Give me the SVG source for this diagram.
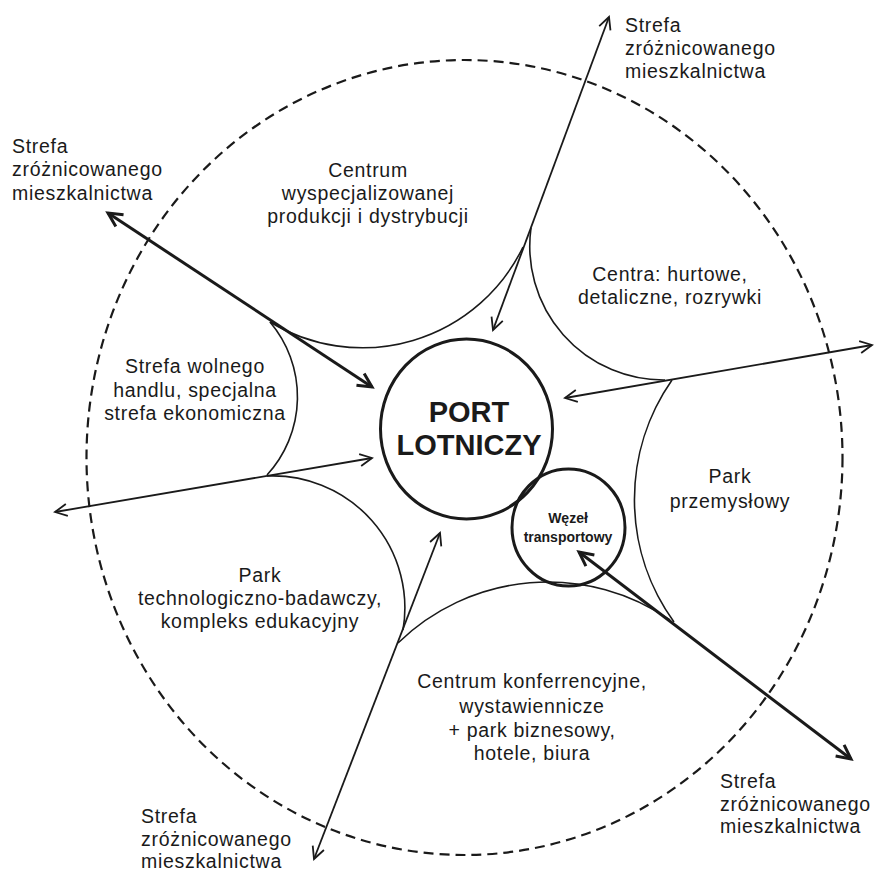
<svg xmlns="http://www.w3.org/2000/svg" width="874" height="871" viewBox="0 0 874 871">
<style>
.zone{fill:none;stroke:#1a1a1a;stroke-width:1.6}
.hub{fill:none;stroke:#1a1a1a;stroke-width:3}
.bound{fill:none;stroke:#1a1a1a;stroke-width:2.2;stroke-dasharray:10 6}
.thin{fill:none;stroke:#1a1a1a;stroke-width:1.8;marker-start:url(#ah);marker-end:url(#ah)}
.thick{fill:none;stroke:#1a1a1a;stroke-width:3;marker-start:url(#ahb);marker-end:url(#ahb)}
text{font-family:"Liberation Sans",Arial,Helvetica,sans-serif;fill:#1a1a1a}
.lbl{font-size:19.5px;letter-spacing:0.7px}
.c{text-anchor:middle}
.big{font-size:29px;font-weight:bold}
.small{font-size:14px;font-weight:bold}
</style>
<defs>
<marker id="ah" markerUnits="userSpaceOnUse" orient="auto-start-reverse" refX="0" refY="0" markerWidth="20" markerHeight="20" overflow="visible">
<path d="M-12,-6 L0,0 L-12,6" fill="none" stroke="#1a1a1a" stroke-width="1.8"/>
</marker>
<marker id="ahb" markerUnits="userSpaceOnUse" orient="auto-start-reverse" refX="0" refY="0" markerWidth="20" markerHeight="20" overflow="visible">
<path d="M-14,-7 L0,0 L-14,7" fill="none" stroke="#1a1a1a" stroke-width="3"/>
</marker>
</defs>
<rect width="874" height="871" fill="#fff"/>

<g id="boundary">
<ellipse class="bound" cx="464.5" cy="457.5" rx="378" ry="397.5"/>
</g>

<g id="zone-produkcja">
<path class="zone" d="M270,322 A178.4,178.4 0 0 0 523,247"/>
<text class="lbl c" x="368" y="177">Centrum</text>
<text class="lbl c" x="368" y="200">wyspecjalizowanej</text>
<text class="lbl c" x="368" y="223">produkcji i dystrybucji</text>
</g>

<g id="zone-centra">
<path class="zone" d="M531,228 A133.8,133.8 0 0 0 665,380"/>
<text class="lbl c" x="670" y="281">Centra: hurtowe,</text>
<text class="lbl c" x="670" y="304">detaliczne, rozrywki</text>
</g>

<g id="zone-przemyslowy">
<path class="zone" d="M672,380 A209.2,209.2 0 0 0 674,622"/>
<text class="lbl c" x="730" y="483">Park</text>
<text class="lbl c" x="730" y="508">przemysłowy</text>
</g>

<g id="zone-konferencyjne">
<path class="zone" d="M670,620 A215,215 0 0 0 398,643"/>
<text class="lbl c" x="532" y="688">Centrum konferrencyjne,</text>
<text class="lbl c" x="532" y="713">wystawiennicze</text>
<text class="lbl c" x="532" y="737">+ park biznesowy,</text>
<text class="lbl c" x="532" y="760">hotele, biura</text>
</g>

<g id="zone-technologiczny">
<path class="zone" d="M403,630 A132,132 0 0 0 267,476"/>
<text class="lbl c" x="260" y="582">Park</text>
<text class="lbl c" x="260" y="605">technologiczno-badawczy,</text>
<text class="lbl c" x="260" y="628">kompleks edukacyjny</text>
</g>

<g id="zone-wolny-handel">
<path class="zone" d="M267,475 A115.6,115.6 0 0 0 270,322"/>
<text class="lbl c" x="195" y="373">Strefa wolnego</text>
<text class="lbl c" x="195" y="397">handlu, specjalna</text>
<text class="lbl c" x="195" y="420">strefa ekonomiczna</text>
</g>

<g id="port-lotniczy">
<ellipse class="hub" cx="466.5" cy="429" rx="86" ry="90"/>
<text class="big c" x="469" y="422">PORT</text>
<text class="big c" x="469" y="455">LOTNICZY</text>
</g>

<g id="wezel-transportowy">
<ellipse class="hub" cx="568.5" cy="527.5" rx="56.5" ry="58.5"/>
<text class="small c" x="568" y="523">Węzeł</text>
<text class="small c" x="568" y="542">transportowy</text>
</g>

<g id="connectors">
<line class="thin" x1="493" y1="330" x2="609" y2="17"/>
<line class="thick" x1="372" y1="387" x2="108" y2="213"/>
<line class="thin" x1="372" y1="458" x2="55" y2="512"/>
<line class="thin" x1="565" y1="398" x2="872" y2="345"/>
<line class="thin" x1="440" y1="533" x2="314" y2="859"/>
<line class="thick" x1="579" y1="552" x2="851" y2="759"/>
</g>

<g id="ext-north">
<text class="lbl" x="625" y="32">Strefa</text>
<text class="lbl" x="625" y="55">zróżnicowanego</text>
<text class="lbl" x="625" y="78">mieszkalnictwa</text>
</g>
<g id="ext-northwest">
<text class="lbl" x="12" y="153">Strefa</text>
<text class="lbl" x="12" y="176">zróżnicowanego</text>
<text class="lbl" x="12" y="200">mieszkalnictwa</text>
</g>
<g id="ext-southeast">
<text class="lbl" x="720" y="788">Strefa</text>
<text class="lbl" x="720" y="811">zróżnicowanego</text>
<text class="lbl" x="720" y="833">mieszkalnictwa</text>
</g>
<g id="ext-southwest">
<text class="lbl" x="141" y="823">Strefa</text>
<text class="lbl" x="141" y="846">zróżnicowanego</text>
<text class="lbl" x="141" y="868">mieszkalnictwa</text>
</g>
</svg>
